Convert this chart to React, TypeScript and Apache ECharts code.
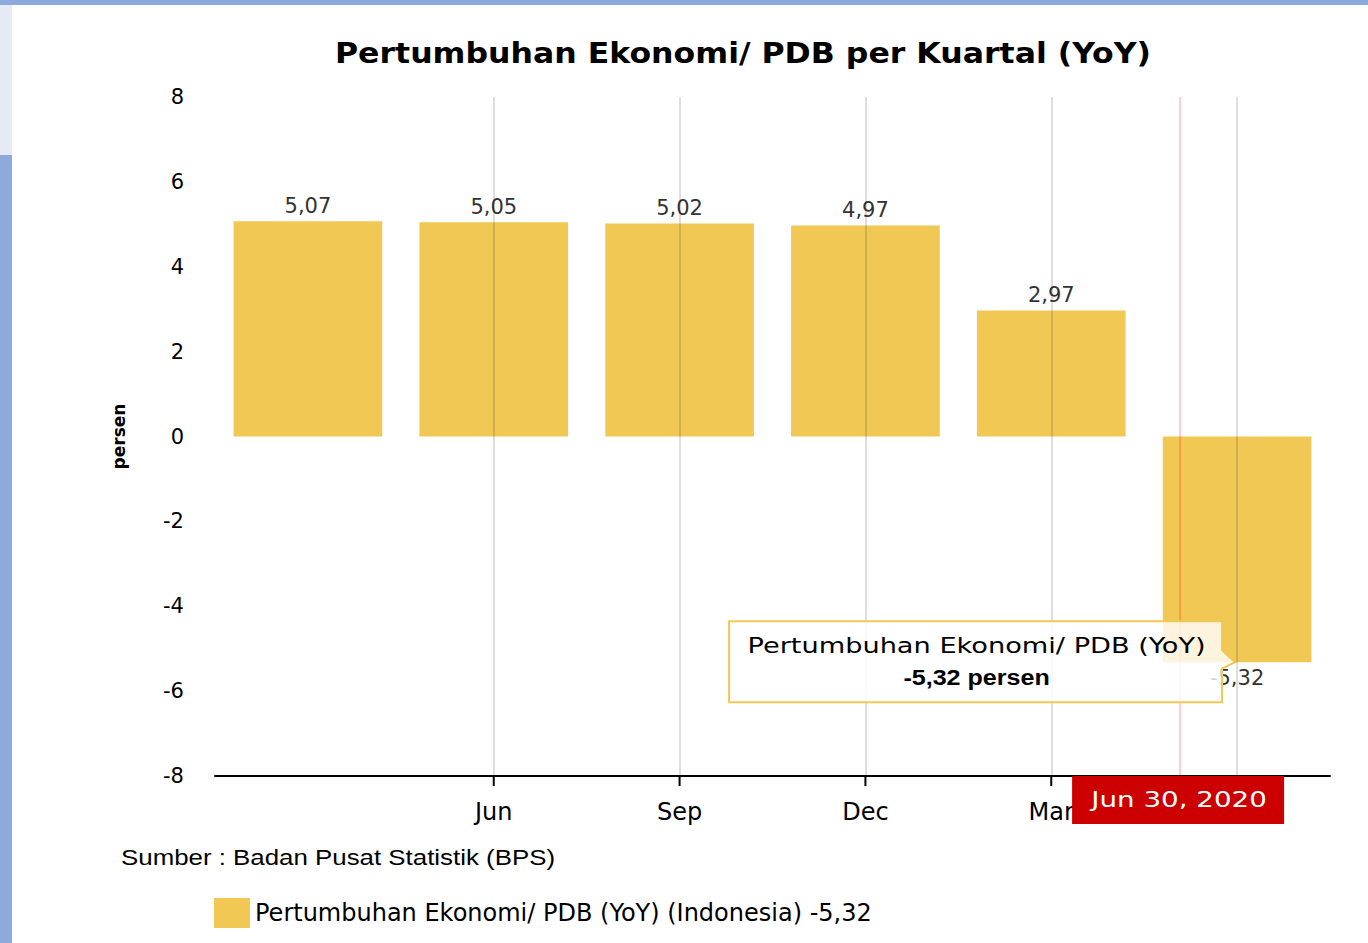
import React, { useEffect, useRef } from 'react';
import * as echarts from 'echarts';

const categories = ['Mar', 'Jun', 'Sep', 'Dec', 'Mar', 'Jun'];
const values = [5.07, 5.05, 5.02, 4.97, 2.97, -5.32];
const gridLineIdx = [1, 2, 3, 4, 5];
const yMin = -8;
const yMax = 8;
const yInterval = 2;
const titleText = 'Pertumbuhan Ekonomi/ PDB per Kuartal (YoY)';
const seriesLabel = 'Pertumbuhan Ekonomi/ PDB (YoY)';
const legendName = 'Pertumbuhan Ekonomi/ PDB (YoY) (Indonesia) -5,32';
const sourceText = 'Sumber : Badan Pusat Statistik (BPS)';
const unitText = 'persen';
const hoverIndex = 5;
const crosshairLabel = 'Jun 30, 2020';

const FONT = '"DejaVu Sans", Verdana, sans-serif';
const BAR = '#F1C853';
const fmt = (v: number) => v.toFixed(2).replace('.', ',');

export default function App() {
  const ref = useRef<HTMLDivElement>(null);
  useEffect(() => {
    document.body.style.margin = '0';
    const chart = echarts.init(ref.current!, null, { renderer: 'svg' });

    const gridLines = gridLineIdx.map((i) => [
      { xAxis: i, yAxis: yMax },
      { xAxis: i, yAxis: yMin },
    ]);

    chart.setOption({
      animation: false,
      legend: {
        left: 209,
        top: 893,
        itemWidth: 36,
        itemHeight: 30,
        icon: 'rect',
        textStyle: { fontFamily: FONT, fontSize: 24, color: '#000' },
        data: [legendName],
      },
      grid: { left: 215, right: 38, top: 97, bottom: 167 },
      xAxis: {
        type: 'category',
        data: categories,
        axisLine: { onZero: false, lineStyle: { color: '#000', width: 2 } },
        axisTick: { show: false },
        axisLabel: {
          interval: (i: number) => i > 0 && i !== hoverIndex,
          fontFamily: FONT,
          fontSize: 24,
          color: '#000',
          margin: 24,
        },
        splitLine: { show: false },
      },
      yAxis: {
        type: 'value',
        min: yMin,
        max: yMax,
        interval: yInterval,
        axisLine: { show: false },
        axisTick: { show: false },
        splitLine: { show: false },
        axisLabel: { fontFamily: FONT, fontSize: 21, color: '#000', margin: 31 },
        name: unitText,
        nameLocation: 'middle',
        nameRotate: 90,
        nameGap: 88,
        nameTextStyle: { fontFamily: FONT, fontSize: 17, fontWeight: 'bold', color: '#000' },
      },
      series: [
        {
          type: 'bar',
          name: legendName,
          barCategoryGap: '20%',
          itemStyle: { color: BAR },
          data: values.map((v) => ({
            value: v,
            label: { position: v < 0 ? 'bottom' : 'top' },
          })),
          label: {
            show: true,
            distance: 5,
            fontFamily: FONT,
            fontSize: 21,
            color: '#333',
            formatter: (p: any) => fmt(p.value),
          },
          markLine: {
            silent: true,
            symbol: ['none', 'none'],
            label: { show: false },
            lineStyle: { color: 'rgba(0,0,0,0.13)', width: 2, type: 'solid' },
            data: gridLines,
          },
        },
      ],
    });

    const px = (i: number, v: number) =>
      chart.convertToPixel({ seriesIndex: 0 }, [i, v]) as number[];
    const [cx, cy] = px(hoverIndex, values[hoverIndex]);
    const [, y0] = px(hoverIndex, yMax);
    const [, y1] = px(hoverIndex, yMin);
    const chX = cx - 57;
    const tipX = cx - 2;
    const boxR = tipX - 13;
    const boxL = boxR - 493;
    const boxT = cy - 41;
    const boxB = cy + 40;
    const boxC = (boxL + boxR) / 2 + 1;

    const tickEls = gridLineIdx.map((i) => {
      const [tx] = px(i, yMin);
      return {
        type: 'line',
        z: 60,
        silent: true,
        shape: { x1: tx, y1: y1, x2: tx, y2: y1 + 10 },
        style: { stroke: '#000', lineWidth: 2 },
      };
    });

    chart.setOption({
      graphic: [
        ...tickEls,
        {
          type: 'text',
          z: 50,
          x: 743,
          y: 53,
          scaleX: 1.127,
          style: {
            text: titleText,
            fill: '#000',
            font: `bold 28px ${FONT}`,
            align: 'center',
            verticalAlign: 'middle',
          },
        },
        {
          type: 'line',
          z: 100,
          silent: true,
          shape: { x1: chX, y1: y0, x2: chX, y2: y1 },
          style: { stroke: 'rgba(255,0,0,0.2)', lineWidth: 2 },
        },
        {
          type: 'rect',
          z: 101,
          shape: { x: chX - 108, y: y1, width: 212, height: 48 },
          style: { fill: '#CC0000' },
        },
        {
          type: 'text',
          z: 102,
          x: chX - 1,
          y: y1 + 24,
          scaleX: 1.26,
          style: {
            text: crosshairLabel,
            fill: '#fff',
            font: `22px ${FONT}`,
            align: 'center',
            verticalAlign: 'middle',
          },
        },
        {
          type: 'polygon',
          z: 103,
          shape: {
            points: [
              [boxL, boxT],
              [boxR, boxT],
              [boxR, cy - 12],
              [tipX, cy],
              [boxR, cy + 6],
              [boxR, boxB],
              [boxL, boxB],
            ],
          },
          style: { fill: 'rgba(255,255,255,0.8)', stroke: BAR, lineWidth: 2 },
        },
        {
          type: 'text',
          z: 104,
          x: boxC,
          y: boxT + 24,
          scaleX: 1.236,
          style: {
            text: seriesLabel,
            fill: '#000',
            font: `22px ${FONT}`,
            align: 'center',
            verticalAlign: 'middle',
          },
        },
        {
          type: 'text',
          z: 104,
          x: boxC,
          y: boxT + 56,
          scaleX: 1.14,
          style: {
            text: `${fmt(values[hoverIndex])} ${unitText}`,
            fill: '#000',
            font: `bold 22px "Liberation Sans", Arial, sans-serif`,
            align: 'center',
            verticalAlign: 'middle',
          },
        },
        {
          type: 'text',
          z: 50,
          x: 121,
          y: 857,
          scaleX: 1.176,
          style: {
            text: sourceText,
            fill: '#000',
            font: `22px "Liberation Sans", Arial, sans-serif`,
            verticalAlign: 'middle',
          },
        },
      ],
    });

    return () => chart.dispose();
  }, []);

  return (
    <div style={{ position: 'relative', width: 1368, height: 943, background: '#fff', overflow: 'hidden' }}>
      <div style={{ position: 'absolute', left: 0, top: 0, width: 1368, height: 5, background: '#8EAADC' }} />
      <div style={{ position: 'absolute', left: 0, top: 5, width: 12, height: 150, background: '#E6EAF5' }} />
      <div style={{ position: 'absolute', left: 0, top: 155, width: 12, height: 788, background: '#8EAADC' }} />
      <div ref={ref} style={{ position: 'absolute', left: 0, top: 0, width: 1368, height: 943 }} />
    </div>
  );
}
